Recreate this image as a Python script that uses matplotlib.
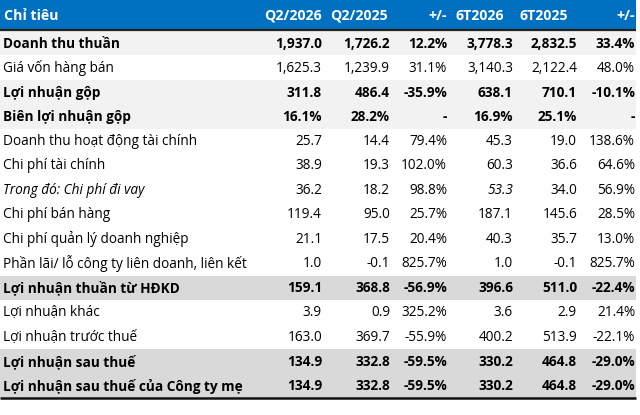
import matplotlib.pyplot as plt
from matplotlib import font_manager
from matplotlib.patches import Rectangle

# pick a humanist sans that ships a real bold face
bold_ok = {f.name for f in font_manager.fontManager.ttflist if f.weight in (700, "bold")}
family = next((f for f in ["Open Sans", "Noto Sans", "Lato"] if f in bold_ok), "DejaVu Sans")
plt.rcParams['font.family'] = [family, 'DejaVu Sans']

# ===============================
# Table data (tỷ đồng)
# ===============================
headers = ["Chỉ tiêu", "Q2/2026", "Q2/2025", "+/-", "6T2026", "6T2025", "+/-"]

labels = [
    "Doanh thu thuần",
    "Giá vốn hàng bán",
    "Lợi nhuận gộp",
    "Biên lợi nhuận gộp",
    "Doanh thu hoạt động tài chính",
    "Chi phí tài chính",
    "Trong đó: Chi phí đi vay",
    "Chi phí bán hàng",
    "Chi phí quản lý doanh nghiệp",
    "Phần lãi/ lỗ công ty liên doanh, liên kết",
    "Lợi nhuận thuần từ HĐKD",
    "Lợi nhuận khác",
    "Lợi nhuận trước thuế",
    "Lợi nhuận sau thuế",
    "Lợi nhuận sau thuế của Công ty mẹ",
]

q2_2026 = [1937.0, 1625.3, 311.8, 16.1, 25.7, 38.9, 36.2, 119.4, 21.1, 1.0, 159.1, 3.9, 163.0, 134.9, 134.9]
q2_2025 = [1726.2, 1239.9, 486.4, 28.2, 14.4, 19.3, 18.2, 95.0, 17.5, -0.1, 368.8, 0.9, 369.7, 332.8, 332.8]
chg_q = [12.2, 31.1, -35.9, None, 79.4, 102.0, 98.8, 25.7, 20.4, 825.7, -56.9, 325.2, -55.9, -59.5, -59.5]
h1_2026 = [3778.3, 3140.3, 638.1, 16.9, 45.3, 60.3, 53.3, 187.1, 40.3, 1.0, 396.6, 3.6, 400.2, 330.2, 330.2]
h1_2025 = [2832.5, 2122.4, 710.1, 25.1, 19.0, 36.6, 34.0, 145.6, 35.7, -0.1, 511.0, 2.9, 513.9, 464.8, 464.8]
chg_h = [33.4, 48.0, -10.1, None, 138.6, 64.6, 56.9, 28.5, 13.0, 825.7, -22.4, 21.4, -22.1, -29.0, -29.0]

bold_rows = [0, 2, 3, 10, 13, 14]
italic_rows = [6]
margin_rows = [3]
light_rows = [0, 2, 3]
dark_rows = [10, 13, 14]

# layout in pixels
W, H = 640, 415
table_right = 636
header_h = 30
row_h = 24.45
col_right = [322, 390, 447, 513, 577, 635]
head_right = [322, 388, 447, 504, 568, 635]
fs = 9.8

fig = plt.figure(figsize=(W / 100, H / 100), dpi=100)
ax = fig.add_axes([0, 0, 1, 1])
ax.set_xlim(0, W)
ax.set_ylim(H, 0)
ax.axis("off")

# header
ax.add_patch(Rectangle((0, 0), table_right, header_h, color="#0070C0", lw=0))
ax.text(4, header_h / 2 + 1, headers[0], color="white", fontsize=fs + 0.4,
        fontweight="bold", ha="left", va="center")
for x, h in zip(head_right, headers[1:]):
    ax.text(x, header_h / 2 + 1, h, color="white", fontsize=fs + 0.4,
            fontweight="bold", ha="right", va="center")


def fmt_num(v):
    return f"{v:,.1f}"


def fmt_pct(v):
    if v is None:
        return "-"
    return f"{v:.1f}%"


top = header_h + 1
for i, lab in enumerate(labels):
    y0 = top + i * row_h
    if i in light_rows:
        ax.add_patch(Rectangle((0, y0), table_right, row_h, color="#F2F2F2", lw=0))
    elif i in dark_rows:
        ax.add_patch(Rectangle((0, y0), table_right, row_h, color="#D9D9D9", lw=0))

    yc = y0 + row_h / 2 + 0.5
    weight = "bold" if i in bold_rows else "normal"
    style = "italic" if i in italic_rows else "normal"
    ax.text(3, yc, lab, fontsize=fs, fontweight=weight, fontstyle=style,
            ha="left", va="center", color="black")

    if i in margin_rows:
        cells = [fmt_pct(q2_2026[i]), fmt_pct(q2_2025[i]), fmt_pct(chg_q[i]),
                 fmt_pct(h1_2026[i]), fmt_pct(h1_2025[i]), fmt_pct(chg_h[i])]
    else:
        cells = [fmt_num(q2_2026[i]), fmt_num(q2_2025[i]), fmt_pct(chg_q[i]),
                 fmt_num(h1_2026[i]), fmt_num(h1_2025[i]), fmt_pct(chg_h[i])]
    for j, (x, c) in enumerate(zip(col_right, cells)):
        # the borrowing cost row has only the 6T2026 value in italics
        cstyle = "italic" if (i in italic_rows and j == 3) else "normal"
        ax.text(x, yc, c, fontsize=fs, fontweight=weight, fontstyle=cstyle,
                ha="right", va="center", color="black")

# rules
ax.plot([0, table_right], [header_h + 0.5, header_h + 0.5], color="#222222", lw=1.6,
        solid_capstyle="butt")
bottom = top + len(labels) * row_h
ax.plot([0, table_right], [bottom, bottom], color="#111111", lw=1.8,
        solid_capstyle="butt")

fig.savefig("out.png", dpi=100)
